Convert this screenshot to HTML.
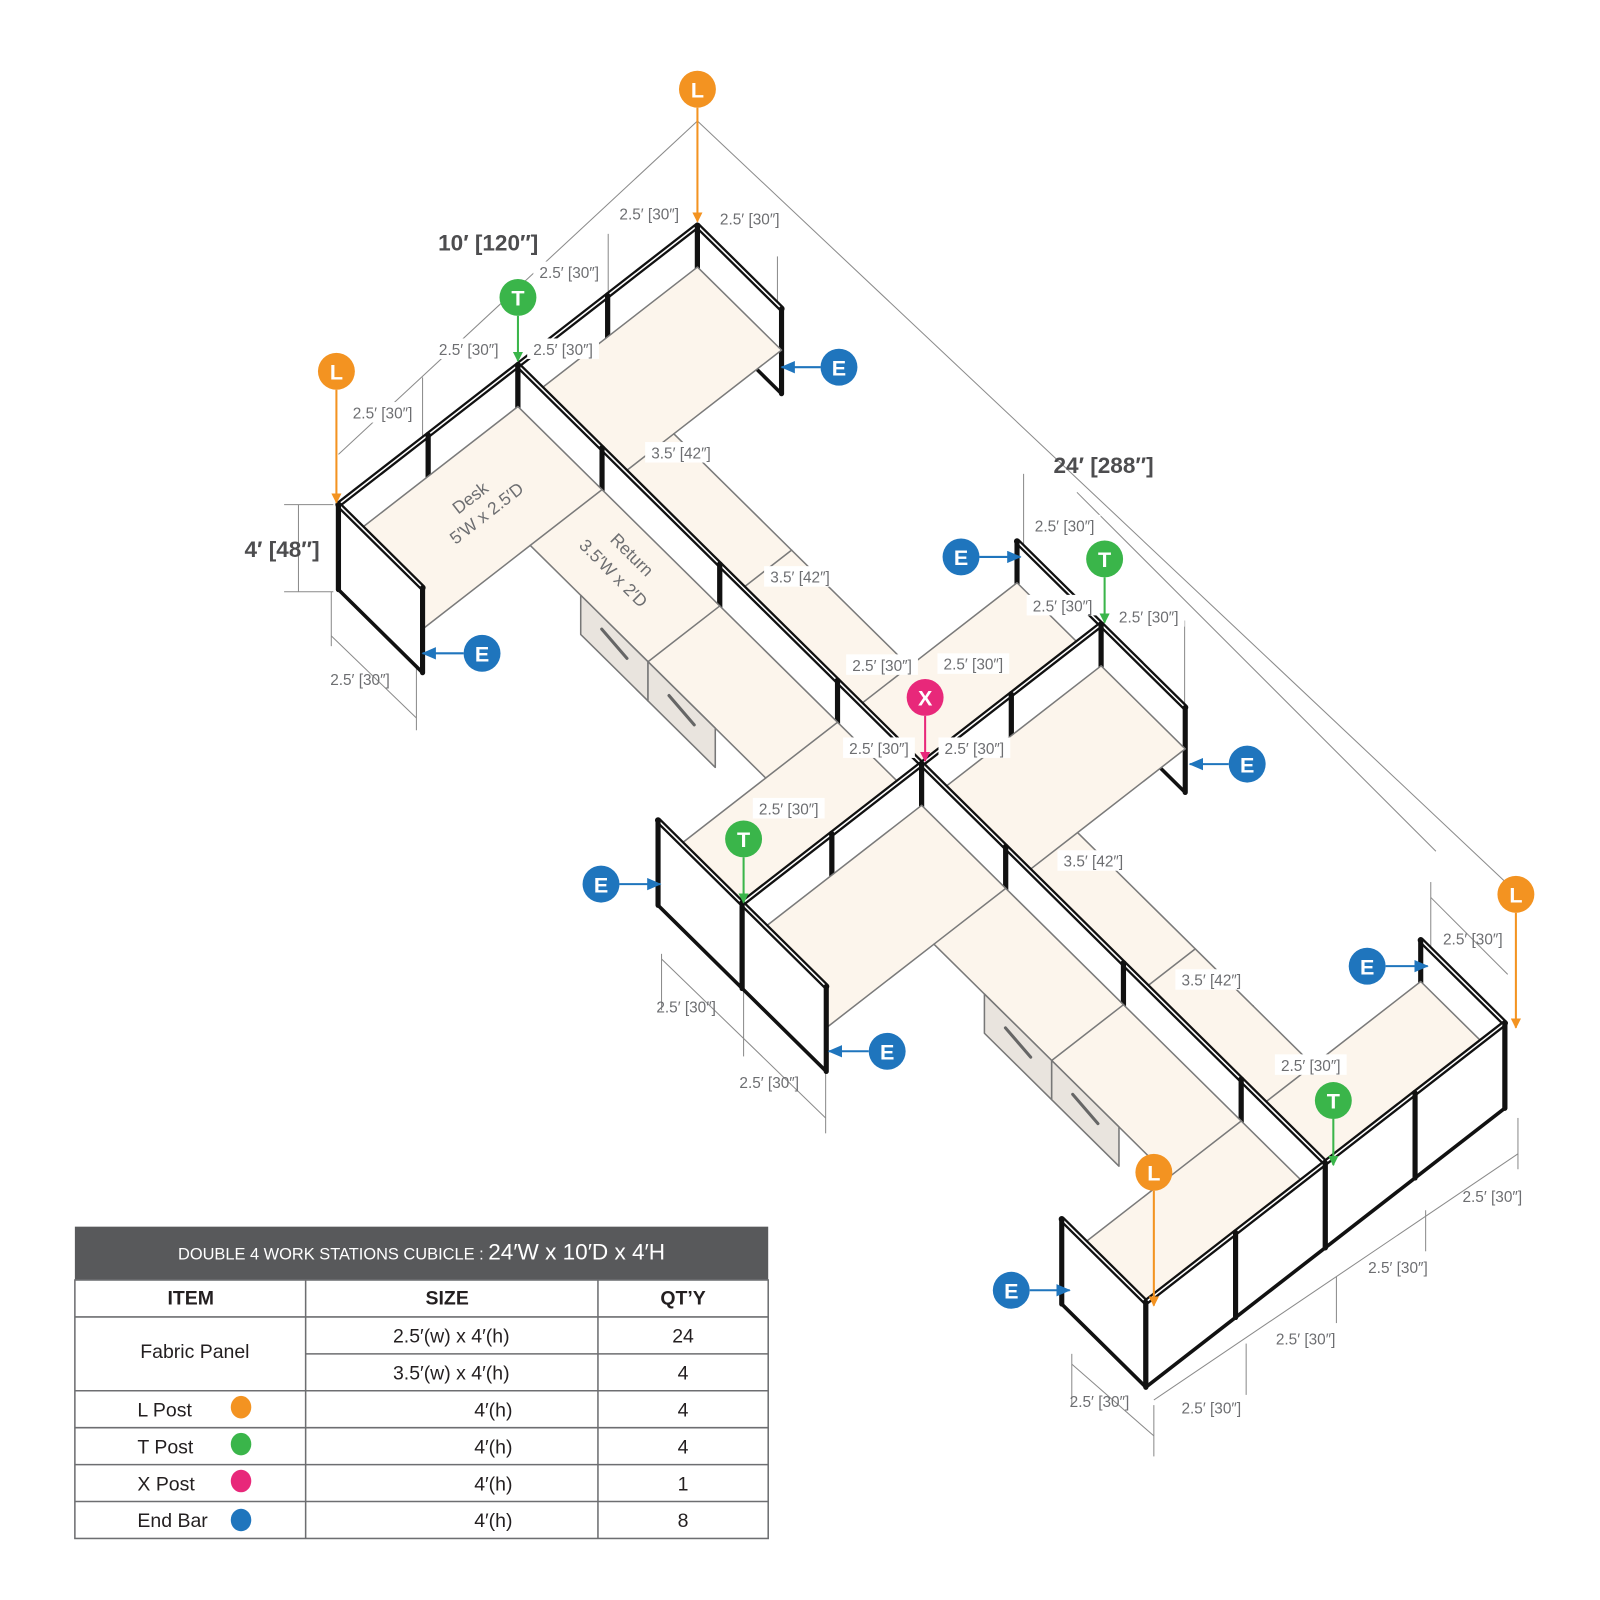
<!DOCTYPE html>
<html><head><meta charset="utf-8"><style>
html,body{margin:0;padding:0;background:#fff;}
svg{display:block;}
.d{font-family:"Liberation Sans",sans-serif;font-size:15px;fill:#6d6e71;}
.dl{stroke:#8a8a8a;stroke-width:1;fill:none;}
.big{font-family:"Liberation Sans",sans-serif;font-size:22px;font-weight:bold;fill:#4d4d4f;}
.m{font-family:"Liberation Sans",sans-serif;font-size:20px;font-weight:bold;fill:#fff;text-anchor:middle;}
.t{font-family:"Liberation Sans",sans-serif;font-size:19px;fill:#231f20;}
</style></head><body>
<svg id="s" width="1600" height="1600" viewBox="0 0 1560 1560" xmlns="http://www.w3.org/2000/svg">
<g id="dims">
<line class="dl" x1="680" y1="118" x2="330" y2="443"/>
<line class="dl" x1="680" y1="118" x2="1470" y2="862"/>
<line class="dl" x1="593" y1="228" x2="593" y2="320"/>
<line class="dl" x1="758" y1="250" x2="758" y2="300"/>
<line class="dl" x1="412" y1="368" x2="412" y2="460"/>
<line class="dl" x1="580" y1="345" x2="580" y2="470"/>
<line class="dl" x1="323" y1="577" x2="323" y2="630"/>
<line class="dl" x1="406" y1="650" x2="406" y2="712"/>
<line class="dl" x1="323" y1="620" x2="406" y2="700"/>
<line class="dl" x1="998" y1="462" x2="998" y2="540"/>
<line class="dl" x1="1155" y1="605" x2="1155" y2="690"/>
<line class="dl" x1="1050" y1="480" x2="1400" y2="830"/>
<line class="dl" x1="705" y1="478" x2="705" y2="560"/>
<line class="dl" x1="822" y1="588" x2="822" y2="680"/>
<line class="dl" x1="985" y1="610" x2="985" y2="700"/>
<line class="dl" x1="645" y1="930" x2="645" y2="985"/>
<line class="dl" x1="725" y1="960" x2="725" y2="1030"/>
<line class="dl" x1="805" y1="1040" x2="805" y2="1105"/>
<line class="dl" x1="645" y1="935" x2="805" y2="1090"/>
<line class="dl" x1="1395" y1="860" x2="1395" y2="940"/>
<line class="dl" x1="1395" y1="875" x2="1470" y2="950"/>
<line class="dl" x1="1480" y1="1090" x2="1480" y2="1140"/>
<line class="dl" x1="1125" y1="1365" x2="1480" y2="1125"/>
<line class="dl" x1="1045" y1="1320" x2="1045" y2="1370"/>
<line class="dl" x1="1045" y1="1330" x2="1125" y2="1400"/>
<line class="dl" x1="1125" y1="1370" x2="1125" y2="1420"/>
<line class="dl" x1="1215" y1="1310" x2="1215" y2="1360"/>
<line class="dl" x1="1303" y1="1245" x2="1303" y2="1290"/>
<line class="dl" x1="1390" y1="1180" x2="1390" y2="1220"/>
<line class="dl" x1="1105" y1="870" x2="1105" y2="945"/>
<line class="dl" x1="1222" y1="980" x2="1222" y2="1060"/>
<line class="dl" x1="277" y1="492" x2="325" y2="492"/>
<line class="dl" x1="277" y1="577" x2="325" y2="577"/>
<line class="dl" x1="291" y1="492" x2="291" y2="577"/>
</g>
<g id="draw"></g>
<g id="labels"></g>
</svg>
<script>
const NS="http://www.w3.org/2000/svg";
const g=document.getElementById('draw');
const P=(a,b,z)=>{z=(z===undefined)?4:z;return [680+(a-4)*87.5+b*82, 220-(a-4)*68+b*81+(4-z)*21.25];};
function poly(pts,fill,stroke,sw){const e=document.createElementNS(NS,'polygon');e.setAttribute('points',pts.map(p=>p.join(',')).join(' '));e.setAttribute('fill',fill);e.setAttribute('stroke',stroke);e.setAttribute('stroke-width',sw);e.setAttribute('stroke-linejoin','round');g.appendChild(e);}
function line(p,q,stroke,sw){const e=document.createElementNS(NS,'line');e.setAttribute('x1',p[0]);e.setAttribute('y1',p[1]);e.setAttribute('x2',q[0]);e.setAttribute('y2',q[1]);e.setAttribute('stroke',stroke);e.setAttribute('stroke-width',sw);e.setAttribute('stroke-linecap','round');g.appendChild(e);}
function panel(a1,b1,a2,b2){
  poly([P(a1,b1,4),P(a2,b2,4),P(a2,b2,0.1),P(a1,b1,0.1)],'#fff','#111',3.5);
  line(P(a1,b1,4),P(a2,b2,4),'#111',6);
  line(P(a1,b1,4),P(a2,b2,4),'#fff',1.5);
  line(P(a1,b1,4),P(a1,b1,0.1),'#111',5);
  line(P(a2,b2,4),P(a2,b2,0.1),'#111',5);
}
const DZ=2.1,DC='#fcf5ec',DS='#7a7a7a';
function desk(pts){poly(pts.map(p=>P(p[0],p[1],DZ)),DC,DS,1.5);}
function dline(p,q){line(P(p[0],p[1],DZ),P(q[0],q[1],DZ),DS,1.5);}
function ped(a,b1,b2){ // pedestal under left return, front face at a
  const pts=[P(a,b1,DZ),P(a,b2,DZ),P(a,b2,0.3),P(a,b1,0.3)];
  poly(pts,'#e9e4de','#777',1.5);
  const m1=P(a,b1+0.25,1.5),m2=P(a,b1+0.55,1.3);
  line(m1,m2,'#666',3);
}
function leftQ(b0){
  desk([[0,b0],[2,b0],[2,b0+4.8],[0,b0+4.8],[0,b0+3.8],[1.2,b0+3.8],[1.2,b0+1],[0,b0+1]]);
  dline([1.2,b0+1],[2,b0+1]);dline([1.2,b0+2.4],[2,b0+2.4]);dline([1.2,b0+3.8],[2,b0+3.8]);
  ped(1.2,b0+1.6,b0+2.4);ped(1.2,b0+2.4,b0+3.2);
}
function rightQ(b0){
  desk([[2,b0],[4,b0],[4,b0+1],[2.8,b0+1],[2.8,b0+3.8],[4,b0+3.8],[4,b0+4.8],[2,b0+4.8]]);
  dline([2,b0+1],[2.8,b0+1]);dline([2,b0+2.4],[2.8,b0+2.4]);dline([2,b0+3.8],[2.8,b0+3.8]);
}
// back wall
panel(0,0,1,0);panel(1,0,2,0);panel(2,0,3,0);panel(3,0,4,0);
panel(4,0,4,1);panel(4,3.8,4,4.8);
rightQ(0);
panel(2,0,2,1);panel(2,1,2,2.4);panel(2,2.4,2,3.8);panel(2,3.8,2,4.8);
leftQ(0);
panel(0,0,0,1);panel(0,3.8,0,4.8);
// middle wall
panel(0,4.8,1,4.8);panel(1,4.8,2,4.8);panel(2,4.8,3,4.8);panel(3,4.8,4,4.8);
panel(4,4.8,4,5.8);panel(4,8.6,4,9.6);
rightQ(4.8);
panel(2,4.8,2,5.8);panel(2,5.8,2,7.2);panel(2,7.2,2,8.6);panel(2,8.6,2,9.6);
leftQ(4.8);
panel(0,4.8,0,5.8);panel(0,8.6,0,9.6);
panel(0,9.6,1,9.6);panel(1,9.6,2,9.6);panel(2,9.6,3,9.6);panel(3,9.6,4,9.6);
</script>
<script>
(function(){
const L=document.getElementById('labels');
function add(html){L.insertAdjacentHTML('beforeend',html);}
})();
</script>
<svg style="position:absolute;left:0;top:0" width="1600" height="1600" viewBox="0 0 1560 1560" xmlns="http://www.w3.org/2000/svg">
<defs>
<marker id="ao" markerWidth="10" markerHeight="10" refX="9" refY="5" orient="auto" markerUnits="userSpaceOnUse"><path d="M0,0 L10,5 L0,10 z" fill="#f39321"/></marker>
<marker id="ag" markerWidth="10" markerHeight="10" refX="9" refY="5" orient="auto" markerUnits="userSpaceOnUse"><path d="M0,0 L10,5 L0,10 z" fill="#3ab54a"/></marker>
<marker id="ap" markerWidth="10" markerHeight="10" refX="9" refY="5" orient="auto" markerUnits="userSpaceOnUse"><path d="M0,0 L10,5 L0,10 z" fill="#e8287a"/></marker>
<marker id="ab" markerWidth="14" markerHeight="12" refX="13" refY="6" orient="auto" markerUnits="userSpaceOnUse"><path d="M0,0 L14,6 L0,12 z" fill="#1f75bd"/></marker>
</defs>
<g font-family="Liberation Sans, sans-serif">
<g fill="#fff">
<rect x="598" y="198" width="70" height="20"/><rect x="696" y="203" width="70" height="20"/><rect x="520" y="255" width="70" height="20"/><rect x="422" y="330" width="70" height="20"/><rect x="514" y="330" width="70" height="20"/><rect x="338" y="392" width="70" height="20"/><rect x="629" y="431" width="70" height="20"/><rect x="745" y="552" width="70" height="20"/><rect x="1003" y="502" width="70" height="20"/><rect x="1001" y="580" width="70" height="20"/><rect x="1085" y="591" width="70" height="20"/><rect x="825" y="638" width="70" height="20"/><rect x="914" y="637" width="70" height="20"/><rect x="822" y="719" width="70" height="20"/><rect x="915" y="719" width="70" height="20"/><rect x="734" y="778" width="70" height="20"/><rect x="1031" y="829" width="70" height="20"/><rect x="1146" y="945" width="70" height="20"/><rect x="1243" y="1028" width="70" height="20"/>
</g>
<g class="d" text-anchor="middle" font-size="15" fill="#6d6e71">
<text x="633" y="214">2.5′ [30″]</text><text x="731" y="219">2.5′ [30″]</text><text x="555" y="271">2.5′ [30″]</text><text x="457" y="346">2.5′ [30″]</text><text x="549" y="346">2.5′ [30″]</text><text x="373" y="408">2.5′ [30″]</text><text x="351" y="668">2.5′ [30″]</text>
<text x="664" y="447">3.5′ [42″]</text><text x="780" y="568">3.5′ [42″]</text><text x="1066" y="845">3.5′ [42″]</text><text x="1181" y="961">3.5′ [42″]</text>
<text x="1038" y="518">2.5′ [30″]</text><text x="1036" y="596">2.5′ [30″]</text><text x="1120" y="607">2.5′ [30″]</text><text x="860" y="654">2.5′ [30″]</text><text x="949" y="653">2.5′ [30″]</text><text x="857" y="735">2.5′ [30″]</text><text x="950" y="735">2.5′ [30″]</text><text x="769" y="794">2.5′ [30″]</text><text x="669" y="987">2.5′ [30″]</text><text x="750" y="1061">2.5′ [30″]</text><text x="1436" y="921">2.5′ [30″]</text><text x="1278" y="1044">2.5′ [30″]</text><text x="1455" y="1172">2.5′ [30″]</text><text x="1363" y="1241">2.5′ [30″]</text><text x="1273" y="1311">2.5′ [30″]</text><text x="1072" y="1372">2.5′ [30″]</text><text x="1181" y="1378">2.5′ [30″]</text>
</g>
<text x="476" y="244" text-anchor="middle" font-size="22" font-weight="bold" fill="#4d4d4f">10′ [120″]</text>
<text x="1076" y="461" text-anchor="middle" font-size="22" font-weight="bold" fill="#4d4d4f">24′ [288″]</text>
<text x="275" y="543" text-anchor="middle" font-size="22" font-weight="bold" fill="#4d4d4f">4′ [48″]</text>
<g font-size="17" fill="#6d6e71" text-anchor="middle">
<text transform="translate(462,490) rotate(-38)">Desk</text>
<text transform="translate(478,505) rotate(-38)">5′W x 2.5′D</text>
<text transform="translate(612,545) rotate(45)">Return</text>
<text transform="translate(594,563) rotate(45)">3.5′W x 2′D</text>
</g>
<g stroke-width="2" fill="none">
<line x1="680" y1="105" x2="680" y2="216" stroke="#f39321" marker-end="url(#ao)"/>
<line x1="328" y1="380" x2="328" y2="490" stroke="#f39321" marker-end="url(#ao)"/>
<line x1="1478" y1="890" x2="1478" y2="1002" stroke="#f39321" marker-end="url(#ao)"/>
<line x1="1125" y1="1161" x2="1125" y2="1273" stroke="#f39321" marker-end="url(#ao)"/>
<line x1="505" y1="308" x2="505" y2="352" stroke="#3ab54a" marker-end="url(#ag)"/>
<line x1="1077" y1="563" x2="1077" y2="607" stroke="#3ab54a" marker-end="url(#ag)"/>
<line x1="725" y1="836" x2="725" y2="880" stroke="#3ab54a" marker-end="url(#ag)"/>
<line x1="1300" y1="1091" x2="1300" y2="1136" stroke="#3ab54a" marker-end="url(#ag)"/>
<line x1="902" y1="698" x2="902" y2="742" stroke="#e8287a" marker-end="url(#ap)"/>
<g stroke="#1f75bd">
<line x1="800" y1="358" x2="762" y2="358" marker-end="url(#ab)"/>
<line x1="452" y1="637" x2="412" y2="637" marker-end="url(#ab)"/>
<line x1="955" y1="543" x2="995" y2="543" marker-end="url(#ab)"/>
<line x1="1198" y1="745" x2="1160" y2="745" marker-end="url(#ab)"/>
<line x1="604" y1="862" x2="644" y2="862" marker-end="url(#ab)"/>
<line x1="847" y1="1025" x2="808" y2="1025" marker-end="url(#ab)"/>
<line x1="1351" y1="942" x2="1392" y2="942" marker-end="url(#ab)"/>
<line x1="1004" y1="1258" x2="1043" y2="1258" marker-end="url(#ab)"/>
</g>
</g>
<g>
<circle cx="680" cy="87" r="18" fill="#f39321"/><circle cx="328" cy="362" r="18" fill="#f39321"/><circle cx="1478" cy="872" r="18" fill="#f39321"/><circle cx="1125" cy="1143" r="18" fill="#f39321"/>
<circle cx="505" cy="290" r="18" fill="#3ab54a"/><circle cx="1077" cy="545" r="18" fill="#3ab54a"/><circle cx="725" cy="818" r="18" fill="#3ab54a"/><circle cx="1300" cy="1073" r="18" fill="#3ab54a"/>
<circle cx="902" cy="680" r="18" fill="#e8287a"/>
<circle cx="818" cy="358" r="18" fill="#1f75bd"/><circle cx="470" cy="637" r="18" fill="#1f75bd"/><circle cx="937" cy="543" r="18" fill="#1f75bd"/><circle cx="1216" cy="745" r="18" fill="#1f75bd"/><circle cx="586" cy="862" r="18" fill="#1f75bd"/><circle cx="865" cy="1025" r="18" fill="#1f75bd"/><circle cx="1333" cy="942" r="18" fill="#1f75bd"/><circle cx="986" cy="1258" r="18" fill="#1f75bd"/>
</g>
<g font-size="21" font-weight="bold" fill="#fff" text-anchor="middle">
<text x="680" y="95">L</text><text x="328" y="370">L</text><text x="1478" y="880">L</text><text x="1125" y="1151">L</text>
<text x="505" y="298">T</text><text x="1077" y="553">T</text><text x="725" y="826">T</text><text x="1300" y="1081">T</text>
<text x="902" y="688">X</text>
<text x="818" y="366">E</text><text x="470" y="645">E</text><text x="937" y="551">E</text><text x="1216" y="753">E</text><text x="586" y="870">E</text><text x="865" y="1033">E</text><text x="1333" y="950">E</text><text x="986" y="1266">E</text>
</g>
<!-- table -->
<rect x="73" y="1196" width="676" height="52" fill="#58595b"/>
<text x="411" y="1228" text-anchor="middle" fill="#fff"><tspan font-size="16">DOUBLE 4 WORK STATIONS  CUBICLE  :  </tspan><tspan font-size="22">24′W x 10′D x 4′H</tspan></text>
<g stroke="#6d6e71" stroke-width="1.5" fill="none">
<rect x="73" y="1248" width="676" height="252"/>
<line x1="73" y1="1284" x2="749" y2="1284"/>
<line x1="298" y1="1320" x2="749" y2="1320"/>
<line x1="73" y1="1356" x2="749" y2="1356"/><line x1="73" y1="1392" x2="749" y2="1392"/><line x1="73" y1="1428" x2="749" y2="1428"/><line x1="73" y1="1464" x2="749" y2="1464"/>
<line x1="298" y1="1248" x2="298" y2="1500"/><line x1="583" y1="1248" x2="583" y2="1500"/>
</g>
<g font-size="19" fill="#231f20">
<text x="186" y="1272" text-anchor="middle" font-weight="bold">ITEM</text>
<text x="436" y="1272" text-anchor="middle" font-weight="bold">SIZE</text>
<text x="666" y="1272" text-anchor="middle" font-weight="bold">QT’Y</text>
<text x="190" y="1324" text-anchor="middle">Fabric Panel</text>
<text x="440" y="1309" text-anchor="middle">2.5′(w) x 4′(h)</text><text x="666" y="1309" text-anchor="middle">24</text>
<text x="440" y="1345" text-anchor="middle">3.5′(w) x 4′(h)</text><text x="666" y="1345" text-anchor="middle">4</text>
<text x="134" y="1381">L Post</text><text x="481" y="1381" text-anchor="middle">4′(h)</text><text x="666" y="1381" text-anchor="middle">4</text>
<text x="134" y="1417">T Post</text><text x="481" y="1417" text-anchor="middle">4′(h)</text><text x="666" y="1417" text-anchor="middle">4</text>
<text x="134" y="1453">X Post</text><text x="481" y="1453" text-anchor="middle">4′(h)</text><text x="666" y="1453" text-anchor="middle">1</text>
<text x="134" y="1489">End Bar</text><text x="481" y="1489" text-anchor="middle">4′(h)</text><text x="666" y="1489" text-anchor="middle">8</text>
</g>
<ellipse cx="235" cy="1372" rx="10" ry="11" fill="#f39321"/>
<ellipse cx="235" cy="1408" rx="10" ry="11" fill="#3ab54a"/>
<ellipse cx="235" cy="1444" rx="10" ry="11" fill="#e8287a"/>
<ellipse cx="235" cy="1482" rx="10" ry="11" fill="#1f75bd"/>
</g>
</svg>
</body></html>
